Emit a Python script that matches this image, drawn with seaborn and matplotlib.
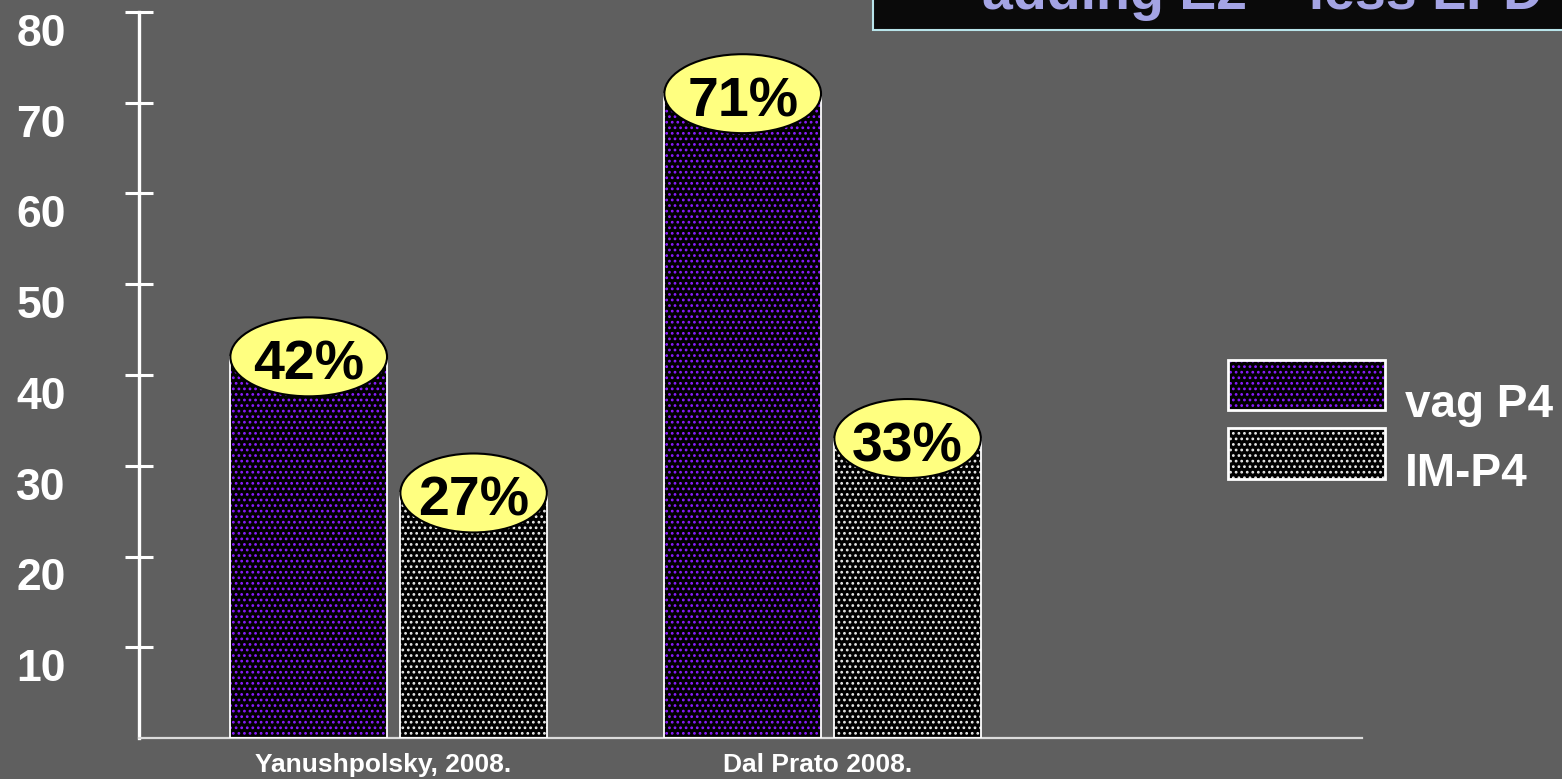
import matplotlib
matplotlib.use("Agg")
import matplotlib.pyplot as plt
import matplotlib.patches as mpatches
from matplotlib.legend_handler import HandlerTuple
from matplotlib.transforms import ScaledTranslation
import seaborn as sns
import pandas as pd

studies = ["Yanushpolsky, 2008.", "Dal Prato 2008."]
groups = ["vag P4", "IM-P4"]
vag_values = [42, 71]
im_values = [27, 33]
y_ticks = [10, 20, 30, 40, 50, 60, 70, 80]

BG = "#5f5f5f"
PURPLE = "#8a1cff"
DOTWHITE = "#e8e8e8"
hatch_colors = {"vag P4": PURPLE, "IM-P4": DOTWHITE}
bar_shrink = {"vag P4": 1.0, "IM-P4": 0.935}

sns.set_style("ticks")
plt.rcParams["font.family"] = ["Liberation Sans", "DejaVu Sans"]
plt.rcParams["font.weight"] = "bold"
plt.rcParams["hatch.linewidth"] = 1.2

df = pd.DataFrame({
    "study": studies * 2,
    "group": [groups[0]] * 2 + [groups[1]] * 2,
    "value": vag_values + im_values,
})

fig = plt.figure(figsize=(15.62, 7.79), dpi=100, facecolor=BG)
W, H = 1562, 779
ax = fig.add_axes([139 / W, (H - 738) / H, (1362 - 139) / W, (738 - 12) / H])
ax.set_facecolor(BG)

sns.barplot(data=df, x="study", y="value", hue="group", order=studies,
            hue_order=groups, palette=["black", "black"], width=0.76, gap=0.05,
            legend=False, ax=ax, zorder=2)

for gi, cont in enumerate(ax.containers):
    g = groups[gi]
    hc = hatch_colors[g]
    for bar in cont:
        x0, y0 = bar.get_xy()
        w, h = bar.get_width(), bar.get_height()
        cx = x0 + w / 2
        w = w * bar_shrink[g]
        x0 = cx - w / 2
        bar.set_x(x0)
        bar.set_width(w)
        bar.set_facecolor("black")
        bar.set_edgecolor(hc)
        bar.set_hatch("...")
        bar.set_linewidth(0)
        ax.add_patch(mpatches.Rectangle((x0, y0), w, h, fill=False,
                                        edgecolor="white", lw=1.3, zorder=3))
        ax.add_patch(mpatches.Ellipse((cx, h), w, 8.7, facecolor="#ffff80",
                                      edgecolor="black", lw=1.5, zorder=4))
        ax.text(cx, h - 2.5, f"{h:.0f}%", ha="center", va="baseline",
                fontsize=40, fontweight="bold", color="black", zorder=5)

ax.set_xlim(-0.581, 2.237)
ax.set_ylim(0, 80)
ax.set_yticks(y_ticks)
ax.set_yticklabels([str(t) for t in y_ticks])
ax.set_xlabel("")
ax.set_ylabel("")

for s in ["top", "right"]:
    ax.spines[s].set_visible(False)
ax.spines["left"].set_color("white")
ax.spines["left"].set_linewidth(2.4)
ax.spines["bottom"].set_color("#dcdcdc")
ax.spines["bottom"].set_linewidth(1.6)

ax.tick_params(axis="y", direction="inout", length=19.5, width=2.2,
               colors="white", labelsize=32, pad=43)
ax.tick_params(axis="x", length=0, colors="white", labelsize=19, pad=11)
off = ScaledTranslation(0, -18 / 100, fig.dpi_scale_trans)
for lab in ax.get_yticklabels():
    lab.set_transform(lab.get_transform() + off)
    lab.set_fontweight("bold")
offx = ScaledTranslation(-8 / 100, 0, fig.dpi_scale_trans)
for lab in ax.get_xticklabels():
    lab.set_transform(lab.get_transform() + offx)
    lab.set_fontweight("bold")

# legend
handles = []
for g in groups:
    handles.append((mpatches.Patch(facecolor="black", edgecolor=hatch_colors[g],
                                   hatch="...", lw=0),
                    mpatches.Patch(fill=False, edgecolor="white", lw=2)))
leg = fig.legend(handles, groups, handler_map={tuple: HandlerTuple(ndivide=1, pad=0)},
                 loc="upper left", bbox_to_anchor=(1228 / W, 1 - 360 / H),
                 frameon=False, fontsize=33, handlelength=3.43, handleheight=1.31,
                 labelspacing=0.39, handletextpad=0.44, borderpad=0, borderaxespad=0)
offl = ScaledTranslation(0, -17 / 100, fig.dpi_scale_trans)
for t in leg.get_texts():
    t.set_color("white")
    t.set_fontweight("bold")
    t.set_transform(t.get_transform() + offl)

# title box (cut off at top)
fig.add_artist(mpatches.Rectangle((873 / W, 1 - 30 / H), 0.5, 0.2,
                                  transform=fig.transFigure, facecolor="#0a0a0a",
                                  edgecolor="#b8e4ea", lw=1.5, zorder=10))
fig.text(982 / W, 1 - 9 / H, "adding E2 – less LPD", ha="left", va="baseline",
         fontsize=40, fontweight="bold", color="#a4a4e4", zorder=11)

fig.savefig("out.png", dpi=100, facecolor=BG)
